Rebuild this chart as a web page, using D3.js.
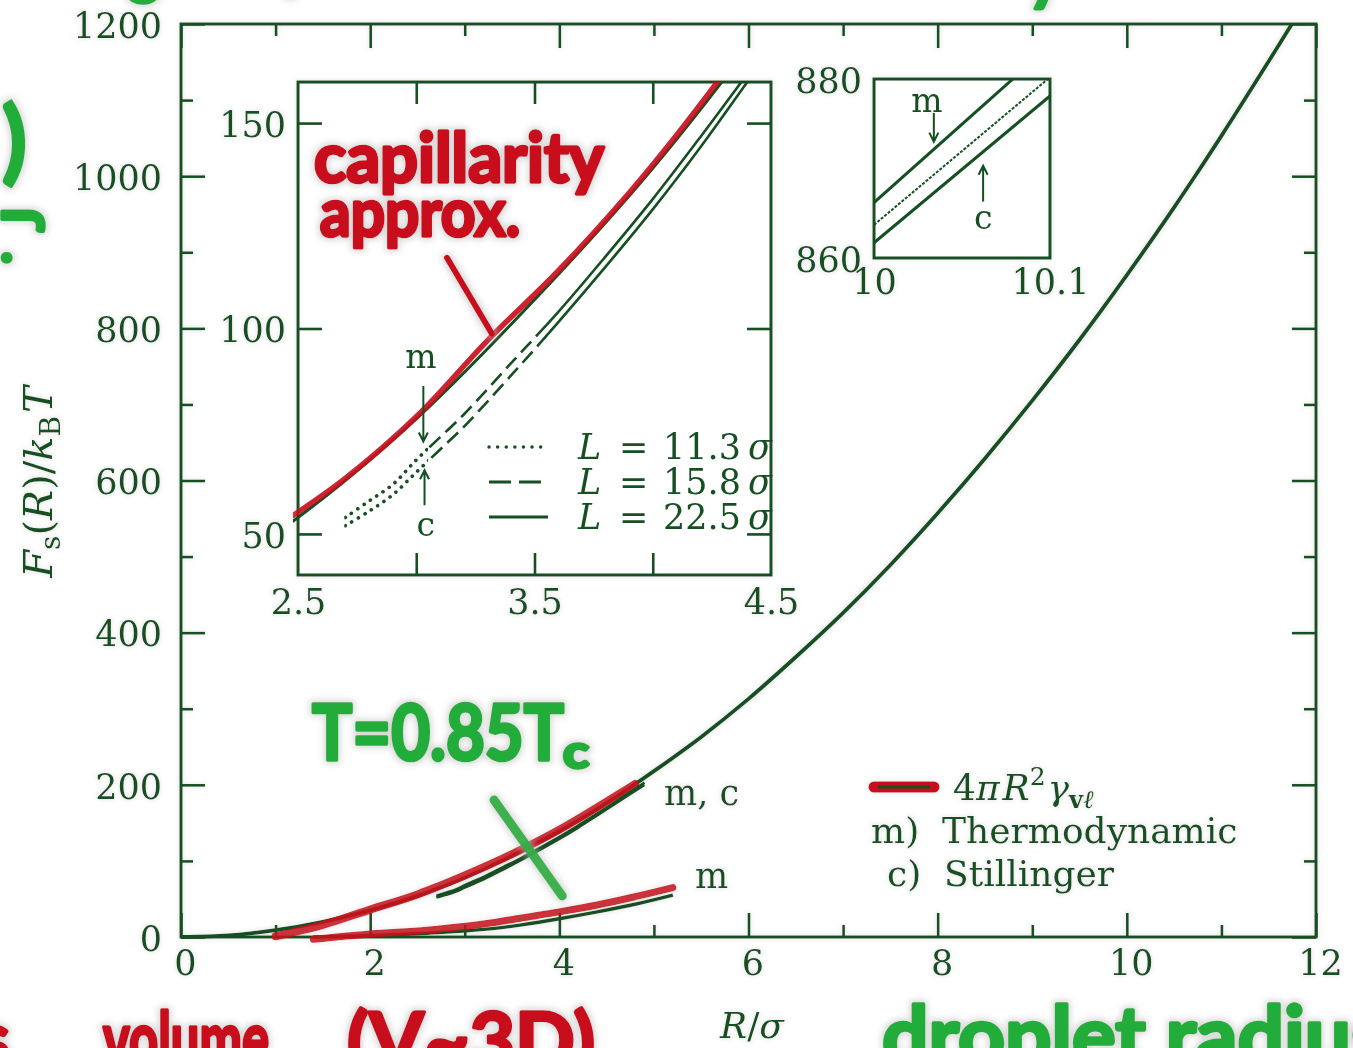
<!DOCTYPE html>
<html>
<head>
<meta charset="utf-8">
<script src="https://cdn.jsdelivr.net/npm/d3@7"></script>
<style>
  html, body { margin: 0; padding: 0; background: #ffffff; }
  svg { display: block; }
</style>
</head>
<body>
<svg id="chart" width="1353" height="1048"></svg>
<script>
// ---------------- data ----------------
// main panel: capillarity approximation 4 pi R^2 gamma
const capR = [0, 0.5, 1, 1.5, 2, 2.5, 3, 3.5, 4, 4.5, 5, 5.5, 6, 6.5, 7, 7.5, 8, 8.5, 9, 9.5, 10, 10.5, 11, 11.5, 11.75];
const capF = [0, 2, 9, 20, 35, 54, 78, 107, 139, 176, 218, 263, 313, 368, 426, 489, 557, 629, 705, 785, 870, 959, 1053, 1151, 1201];

// thermodynamic (m) and Stillinger (c) routes
const mcR = [2.7, 2.8, 2.9, 3.0, 3.1, 3.2, 3.4, 3.6, 3.8, 4.0, 4.2, 4.4, 4.6, 4.9];
const mF  = [54, 58, 62, 68, 73.5, 79, 91.5, 104, 117.5, 131.5, 146.5, 162, 178, 203];
const cF  = [52, 55.5, 59.5, 65, 70.5, 76, 88.5, 101.5, 115, 129, 144, 160, 176, 200];

// lower thermodynamic curve
const lowR = [1.4, 2.0, 2.6, 3.2, 3.6, 4.0, 4.4, 4.8, 5.2];
const lowF = [0, 2, 5, 10, 16, 24, 33, 43, 55];

// hand-drawn marker strokes
const capHlR = [1.0, 1.5, 2.0, 2.5, 3.0, 3.5, 4.0, 4.5, 4.8];
const capHlF = [1, 16, 36, 56, 81, 109, 141, 178, 201];
const lowHlF = [-3, 4, 9, 17, 25, 33, 42, 53, 65];
const insHlR = [2.48, 2.7, 3.0, 3.3, 3.6, 3.9, 4.1, 4.3];
const insHlF = [54.5, 63.5, 78.5, 97, 114, 133, 147, 162];

// close-up around R = 10
const zoomR    = [10.0, 10.1];
const zoomMF   = [866.2, 883.7];
const zoomCapF = [863.7, 880.2];
const zoomCF   = [861.7, 878.1];

// ticks
const mainXMajor = [0, 2, 4, 6, 8, 10, 12];
const mainXMinor = [1, 3, 5, 7, 9, 11];
const mainYMajor = [0, 200, 400, 600, 800, 1000, 1200];
const mainYMinor = [100, 300, 500, 700, 900, 1100];
const insXTicks  = [3, 3.5, 4];
const insXLabels = [2.5, 3.5, 4.5];
const insYTicks  = [50, 100, 150];
const zoomXLabels = [10, 10.1];
const zoomYLabels = [860, 880];

// legend of the first inset (box sizes)
const boxSizes = ["11.3", "15.8", "22.5"];
const boxDash  = ["0.1 7.5", "15 7", null];

// ---------------- setup ----------------
const INK = '#134f21', RED = '#c8111f', GREEN = '#24ad3b';
const SERIF = '"DejaVu Serif", "Liberation Serif", serif';
const HAND = 'Lato, "Open Sans", sans-serif';

const svg = d3.select('#chart');
svg.append('rect').attr('width', 1353).attr('height', 1048).attr('fill', '#ffffff');
const defs = svg.append('defs');

function haloFilter(id, r, sd, color, op) {
  const f = defs.append('filter').attr('id', id)
    .attr('x', '-20%').attr('y', '-20%').attr('width', '140%').attr('height', '140%');
  f.append('feMorphology').attr('in', 'SourceAlpha').attr('operator', 'dilate').attr('radius', r).attr('result', 'd');
  f.append('feGaussianBlur').attr('in', 'd').attr('stdDeviation', sd).attr('result', 'b');
  f.append('feFlood').attr('flood-color', color).attr('flood-opacity', op).attr('result', 'c');
  f.append('feComposite').attr('in', 'c').attr('in2', 'b').attr('operator', 'in').attr('result', 's');
  const m = f.append('feMerge');
  m.append('feMergeNode').attr('in', 's');
  m.append('feMergeNode').attr('in', 'SourceGraphic');
}
haloFilter('halo', 2, 3, '#b9b9b9', 0.55);
haloFilter('softhalo', 1, 2, '#c4c4c4', 0.35);

function clipRect(id, x0, y0, x1, y1) {
  defs.append('clipPath').attr('id', id).append('rect')
    .attr('x', x0).attr('y', y0).attr('width', x1 - x0).attr('height', y1 - y0);
  return `url(#${id})`;
}

function tickMarks(g, scale, orient, values, len) {
  const gen = { bottom: d3.axisBottom, top: d3.axisTop, left: d3.axisLeft, right: d3.axisRight }[orient];
  g.call(gen(scale).tickValues(values).tickSize(-len).tickFormat(''));
  g.select('.domain').remove();
  g.selectAll('.tick line').attr('stroke', INK).attr('stroke-width', 2.6);
}
function tickLabels(g, scale, orient, values, pad, fmt, size) {
  const gen = { bottom: d3.axisBottom, left: d3.axisLeft }[orient];
  g.call(gen(scale).tickValues(values).tickSize(0).tickPadding(pad).tickFormat(fmt));
  g.select('.domain').remove();
  g.selectAll('.tick line').remove();
  g.selectAll('text').attr('fill', INK).attr('font-family', SERIF).attr('font-size', size);
}
function arrow(g, x, y1, y2) {
  const s = y2 > y1 ? -1 : 1;
  g.append('path')
    .attr('d', `M${x},${y1}L${x},${y2}M${x - 4.5},${y2 + s * 9}L${x},${y2}L${x + 4.5},${y2 + s * 9}`)
    .attr('fill', 'none').attr('stroke', INK).attr('stroke-width', 2);
}
function serifText(g, x, y, parts, size, anchor) {
  const t = g.append('text').attr('x', x).attr('y', y).attr('fill', INK)
    .attr('font-family', SERIF).attr('font-size', size).attr('text-anchor', anchor || 'start');
  parts.forEach(p => {
    const s = t.append('tspan').text(p.t);
    if (p.i) s.attr('font-style', 'italic');
    if (p.b) s.attr('font-weight', 'bold');
    if (p.s) s.attr('font-size', p.s);
    if (p.dy) s.attr('dy', p.dy);
    if (p.dx) s.attr('dx', p.dx);
  });
  return t;
}

// ---------------- main panel ----------------
const M = { left: 181, right: 1316, top: 24, bottom: 937 };
const x = d3.scaleLinear().domain([0, 12]).range([M.left, M.right]);
const y = d3.scaleLinear().domain([0, 1200]).range([M.bottom, M.top]);
const lineMain = (xs, ys) => d3.line().curve(d3.curveCatmullRom.alpha(0.5))
  .x(d => x(d[0])).y(d => y(d[1]))(d3.zip(xs, ys));

const main = svg.append('g').attr('filter', 'url(#softhalo)');
main.append('rect').attr('x', M.left).attr('y', M.top)
  .attr('width', M.right - M.left).attr('height', M.bottom - M.top)
  .attr('fill', 'none').attr('stroke', INK).attr('stroke-width', 3);

tickMarks(main.append('g').attr('transform', `translate(0,${M.bottom})`), x, 'bottom', mainXMajor, 24);
tickMarks(main.append('g').attr('transform', `translate(0,${M.bottom})`), x, 'bottom', mainXMinor, 12);
tickMarks(main.append('g').attr('transform', `translate(0,${M.top})`), x, 'top', mainXMajor, 24);
tickMarks(main.append('g').attr('transform', `translate(0,${M.top})`), x, 'top', mainXMinor, 12);
tickMarks(main.append('g').attr('transform', `translate(${M.left},0)`), y, 'left', mainYMajor, 24);
tickMarks(main.append('g').attr('transform', `translate(${M.left},0)`), y, 'left', mainYMinor, 12);
tickMarks(main.append('g').attr('transform', `translate(${M.right},0)`), y, 'right', mainYMajor, 24);
tickMarks(main.append('g').attr('transform', `translate(${M.right},0)`), y, 'right', mainYMinor, 12);

tickLabels(main.append('g').attr('transform', `translate(4,${M.bottom})`), x, 'bottom', mainXMajor, 13, d3.format('d'), 35);
tickLabels(main.append('g').attr('transform', `translate(${M.left},2)`), y, 'left', mainYMajor, 19, d3.format('d'), 35);

// axis titles
const yl = main.append('g').attr('transform', 'translate(52,482) rotate(-90)');
serifText(yl, 0, 0, [
  { t: 'F', i: 1 }, { t: 's', s: 28, dy: 8 }, { t: '(', dy: -8 }, { t: 'R', i: 1 }, { t: ')/' },
  { t: 'k', i: 1 }, { t: 'B', s: 28, dy: 8 }, { t: 'T', i: 1, dy: -8, dx: 3 }
], 40, 'middle');
serifText(main, 752, 1038, [{ t: 'R', i: 1 }, { t: '/' }, { t: 'σ', i: 1 }], 36, 'middle');

// curves
const curves = main.append('g').attr('clip-path', clipRect('clipMain', M.left, M.top, M.right, M.bottom + 12));
curves.append('path').attr('d', lineMain(capR, capF))
  .attr('fill', 'none').attr('stroke', INK).attr('stroke-width', 3.8);
curves.append('path').attr('d', lineMain(lowR, lowF))
  .attr('fill', 'none').attr('stroke', INK).attr('stroke-width', 3.4);
curves.append('path').attr('d', lineMain(capHlR, capHlF))
  .attr('fill', 'none').attr('stroke', RED).attr('stroke-width', 8).attr('stroke-linecap', 'round').attr('opacity', 0.92);
curves.append('path').attr('d', lineMain(lowR, lowHlF))
  .attr('fill', 'none').attr('stroke', RED).attr('stroke-width', 7).attr('stroke-linecap', 'round').attr('opacity', 0.92);
[mF, cF].forEach(f => curves.append('path').attr('d', lineMain(mcR, f))
  .attr('fill', 'none').attr('stroke', INK).attr('stroke-width', 2.8));

serifText(main, 664, 805, [{ t: 'm, c' }], 35);
serifText(main, 695, 888, [{ t: 'm' }], 35);

// legend
main.append('line').attr('x1', 874).attr('x2', 934).attr('y1', 787).attr('y2', 787)
  .attr('stroke', RED).attr('stroke-width', 11).attr('stroke-linecap', 'round');
main.append('line').attr('x1', 878).attr('x2', 930).attr('y1', 787).attr('y2', 787)
  .attr('stroke', INK).attr('stroke-width', 3);
serifText(main, 953, 800, [
  { t: '4' }, { t: 'π', i: 1 }, { t: 'R', i: 1, dx: 3 }, { t: '2', s: 25, dy: -15 },
  { t: 'γ', i: 1, dy: 15, dx: 2 }, { t: 'v', s: 24, dy: 8, b: 1 }, { t: 'ℓ', s: 25, i: 1 }
], 36);
serifText(main, 871, 843, [{ t: 'm)  Thermodynamic' }], 36).attr('xml:space', 'preserve');
serifText(main, 887, 886, [{ t: 'c)  Stillinger' }], 36).attr('xml:space', 'preserve');

// ---------------- first inset: R from 2.5 to 4.5 ----------------
const I = { left: 298, right: 771, top: 82, bottom: 575 };
const xi = d3.scaleLinear().domain([2.5, 4.5]).range([I.left, I.right]);
const yi = d3.scaleLinear().domain([40, 160]).range([I.bottom, I.top]);
const lineIns = (xs, ys) => d3.line().curve(d3.curveCatmullRom.alpha(0.5))
  .x(d => xi(d[0])).y(d => yi(d[1]))(d3.zip(xs, ys));

const ins = svg.append('g').attr('filter', 'url(#softhalo)');
ins.append('rect').attr('x', I.left).attr('y', I.top)
  .attr('width', I.right - I.left).attr('height', I.bottom - I.top)
  .attr('fill', '#ffffff').attr('stroke', INK).attr('stroke-width', 3);
tickMarks(ins.append('g').attr('transform', `translate(0,${I.bottom})`), xi, 'bottom', insXTicks, 22);
tickMarks(ins.append('g').attr('transform', `translate(0,${I.top})`), xi, 'top', insXTicks, 22);
tickMarks(ins.append('g').attr('transform', `translate(${I.left},0)`), yi, 'left', insYTicks, 24);
tickMarks(ins.append('g').attr('transform', `translate(${I.right},0)`), yi, 'right', insYTicks, 24);
tickLabels(ins.append('g').attr('transform', `translate(0,${I.bottom})`), xi, 'bottom', insXLabels, 14, d3.format('.1f'), 35);
tickLabels(ins.append('g').attr('transform', `translate(${I.left},2)`), yi, 'left', insYTicks, 12, d3.format('d'), 35);

const insCurves = ins.append('g').attr('clip-path', clipRect('clipIns', I.left - 5, I.top, I.right, I.bottom));
insCurves.append('path').attr('d', lineIns(capR, capF))
  .attr('fill', 'none').attr('stroke', INK).attr('stroke-width', 3);
insCurves.append('path').attr('d', lineIns(insHlR, insHlF))
  .attr('fill', 'none').attr('stroke', RED).attr('stroke-width', 5.5).attr('stroke-linecap', 'round').attr('opacity', 0.92);

// each box size covers its own range of R
const segRanges = [[2.7, 3.05], [3.05, 3.55], [3.55, 4.5]];
segRanges.forEach((r, k) => {
  const cp = clipRect('seg' + k, xi(r[0]) - 1, I.top, xi(r[1]), I.bottom);
  const g = insCurves.append('g').attr('clip-path', cp);
  [mF, cF].forEach(f => {
    const p = g.append('path').attr('d', lineIns(mcR, f))
      .attr('fill', 'none').attr('stroke', INK)
      .attr('stroke-width', k === 0 ? 3.6 : 2.6).attr('stroke-linecap', k === 0 ? 'round' : 'butt');
    if (boxDash[k]) p.attr('stroke-dasharray', boxDash[k]);
  });
});

// arrows and labels pointing at R = 3.03
serifText(ins, xi(3.02), yi(90.5), [{ t: 'm' }], 33, 'middle');
arrow(ins, xi(3.03), yi(86), yi(72.5));
arrow(ins, xi(3.035), yi(57), yi(65.5));
serifText(ins, xi(3.04), yi(49.5), [{ t: 'c' }], 33, 'middle');

// box-size legend
boxSizes.forEach((L, k) => {
  const yy = 447 + 35 * k;
  const ln = ins.append('line').attr('x1', 489).attr('x2', 548).attr('y1', yy).attr('y2', yy)
    .attr('stroke', INK).attr('stroke-width', k === 0 ? 3.4 : 2.8)
    .attr('stroke-linecap', k === 0 ? 'round' : 'butt');
  if (boxDash[k]) ln.attr('stroke-dasharray', k === 0 ? '0.1 8.5' : '22 8');
  serifText(ins, 578, yy + 12, [{ t: 'L', i: 1 }], 35);
  serifText(ins, 619, yy + 12, [{ t: '=' }], 35);
  serifText(ins, 663, yy + 12, [{ t: L }], 35);
  serifText(ins, 748, yy + 12, [{ t: 'σ', i: 1 }], 35);
});

// ---------------- second inset: R from 10 to 10.1 ----------------
const Z = { left: 874, right: 1050, top: 79, bottom: 258 };
const xz = d3.scaleLinear().domain([10, 10.1]).range([Z.left, Z.right]);
const yz = d3.scaleLinear().domain([860, 880]).range([Z.bottom, Z.top]);
const lineZoom = ys => d3.line().x(d => xz(d[0])).y(d => yz(d[1]))(d3.zip(zoomR, ys));

const zm = svg.append('g').attr('filter', 'url(#softhalo)');
zm.append('rect').attr('x', Z.left).attr('y', Z.top)
  .attr('width', Z.right - Z.left).attr('height', Z.bottom - Z.top)
  .attr('fill', '#ffffff').attr('stroke', INK).attr('stroke-width', 3);
tickLabels(zm.append('g').attr('transform', `translate(${Z.left},2)`), yz, 'left', zoomYLabels, 12, d3.format('d'), 35);
tickLabels(zm.append('g').attr('transform', `translate(0,${Z.bottom})`), xz, 'bottom', zoomXLabels, 11, d => d === 10 ? '10' : '10.1', 35);
const zc = zm.append('g').attr('clip-path', clipRect('clipZoom', Z.left, Z.top, Z.right, Z.bottom));
zc.append('path').attr('d', lineZoom(zoomMF)).attr('stroke', INK).attr('stroke-width', 3).attr('fill', 'none');
zc.append('path').attr('d', lineZoom(zoomCapF)).attr('stroke', INK).attr('stroke-width', 2)
  .attr('stroke-dasharray', '3 1.5').attr('fill', 'none');
zc.append('path').attr('d', lineZoom(zoomCF)).attr('stroke', INK).attr('stroke-width', 3).attr('fill', 'none');
serifText(zm, xz(10.03), yz(876.3), [{ t: 'm' }], 33, 'middle');
arrow(zm, xz(10.034), yz(876.2), yz(873));
arrow(zm, xz(10.062), yz(866.3), yz(870.3));
serifText(zm, xz(10.062), yz(863.2), [{ t: 'c' }], 33, 'middle');

// ---------------- handwritten notes ----------------
const hand = svg.append('g').attr('filter', 'url(#halo)');
function handText(txt, px, py, size, color, len, extra) {
  const t = hand.append('text').attr('x', px).attr('y', py).text(txt)
    .attr('font-family', HAND).attr('font-weight', 700).attr('font-size', size)
    .attr('fill', color).attr('stroke', color).attr('stroke-width', 3.5).attr('stroke-linejoin', 'round');
  if (len) t.attr('textLength', len).attr('lengthAdjust', 'spacingAndGlyphs');
  if (extra) extra(t);
  return t;
}
handText('capillarity', 314, 182, 68, RED, 290);
handText('approx.', 320, 236, 66, RED, 200);
hand.append('path')
  .attr('d', `M${xi(3.13)},${yi(117.2)}L${xi(3.32)},${yi(98.7)}`)
  .attr('stroke', RED).attr('stroke-width', 6).attr('stroke-linecap', 'round');

handText('T=0.85T', 312, 760, 76, GREEN, 252);
handText('c', 563, 768, 46, GREEN, 26);
hand.append('path')
  .attr('d', `M${x(3.31)},${y(180)}L${x(4.03)},${y(54)}`)
  .attr('stroke', GREEN).attr('stroke-width', 9).attr('stroke-linecap', 'round').attr('opacity', 0.92);

handText('s', -22, 1064, 72, RED);
handText('volume', 103, 1064, 72, RED, 166);
handText('(V~3D)', 347, 1068, 76, RED, 248);
handText('droplet radius', 882, 1064, 80, GREEN, 505);

handText('g', 128, -8, 60, GREEN);
handText('p', 283, -14, 60, GREEN);
handText('y', 1028, -1, 62, GREEN);
handText(')', 2, 172, 90, GREEN);
handText('J', 0, 0, 58, GREEN, null, t => t.attr('transform', 'translate(44,232) rotate(-90)'));
handText('.', 0, 262, 56, GREEN);
</script>
</body>
</html>
